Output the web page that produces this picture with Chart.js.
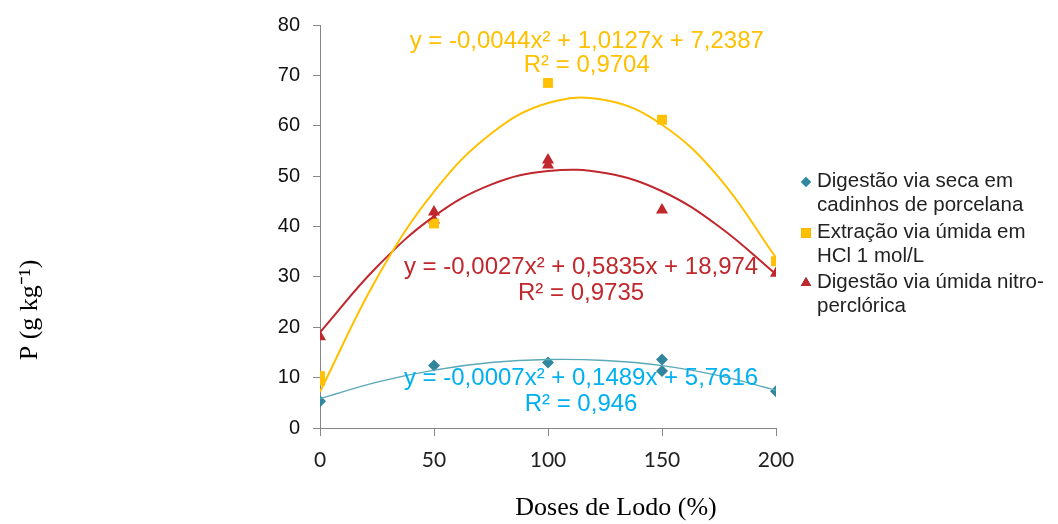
<!DOCTYPE html>
<html>
<head>
<meta charset="utf-8">
<script src="https://cdn.jsdelivr.net/npm/chart.js@4"></script>
<style>
  html, body { margin: 0; padding: 0; background: #fff; }
  #wrap { width: 1058px; height: 524px; }
</style>
</head>
<body>
<div id="wrap"><canvas id="chart" width="1058" height="524"></canvas></div>
<script>
// measured points (replicates share a dose)
const secaX = [0, 50, 100, 150, 150, 200];
const secaY = [5.3, 12.4, 13.0, 13.6, 11.3, 7.3];
const hclX = [0, 0, 50, 100, 150, 200];
const hclY = [10.3, 9.4, 40.6, 68.5, 61.2, 33.1];
const nitroX = [0, 50, 50, 100, 100, 150, 200];
const nitroY = [18.1, 42.9, 41.3, 53.2, 52.2, 43.3, 30.7];

// trend curves
const trendX = [0, 25, 50, 75, 100, 125, 150, 175, 200];
const trendSeca = [5.8, 9.1, 11.5, 13.0, 13.6, 13.4, 12.4, 10.4, 7.5];
const trendHcl = [7.2, 29.8, 46.9, 58.4, 64.5, 65.1, 60.2, 49.7, 33.8];
const trendNitro = [19.0, 32.0, 42.0, 48.3, 51.0, 50.6, 47.0, 40.0, 30.5];

const legendLabels = [
  ['Digestão via seca em', 'cadinhos de porcelana'],
  ['Extração via úmida em', 'HCl 1 mol/L'],
  ['Digestão via úmida nitro-', 'perclórica']
];
const equations = [
  ['y = -0,0044x² + 1,0127x + 7,2387', 'R² = 0,9704'],
  ['y = -0,0027x² + 0,5835x + 18,974', 'R² = 0,9735'],
  ['y = -0,0007x² + 0,1489x + 5,7616', 'R² = 0,946']
];

const TEAL = '#31859C', YELLOW = '#FFC000', RED = '#C0282D';

const pts = (xs, ys) => xs.map((x, i) => ({ x: x, y: ys[i] }));

const overlay = {
  id: 'overlay',
  afterDraw(chart) {
    const ctx = chart.ctx;
    const xs = chart.scales.x, ys = chart.scales.y;
    ctx.save();
    ctx.textBaseline = 'middle';

    // trend equations, anchored in data space
    ctx.font = '24px "Liberation Sans", Arial, sans-serif';
    ctx.textAlign = 'center';
    const eqPos = [[117, 76.8, 71.9], [114.5, 31.9, 26.7], [114.5, 9.9, 4.75]];
    const eqCol = [YELLOW, RED, '#00B0F0'];
    equations.forEach((eq, i) => {
      ctx.fillStyle = eqCol[i];
      const cx = xs.getPixelForValue(eqPos[i][0]);
      ctx.fillText(eq[0], cx, ys.getPixelForValue(eqPos[i][1]));
      ctx.fillText(eq[1], cx, ys.getPixelForValue(eqPos[i][2]));
    });

    // legend
    ctx.font = '20.5px "Liberation Sans", Arial, sans-serif';
    ctx.textAlign = 'left';
    const styles = ['rectRot', 'rect', 'triangle'];
    const sizes = [5, 7, 6];
    const cols = [TEAL, YELLOW, RED];
    const rowY = [181, 232, 282];
    legendLabels.forEach((lines, i) => {
      Chart.helpers.drawPoint(ctx, { pointStyle: styles[i], radius: sizes[i], borderWidth: 0 }, 806, rowY[i] + 1);
      ctx.fillStyle = cols[i];
      ctx.fill();
      ctx.fillStyle = '#222';
      lines.forEach((t, j) => ctx.fillText(t, 817, rowY[i] + j * 24));
    });

    // axis titles
    ctx.fillStyle = '#000';
    ctx.font = '26px "Liberation Serif", "Times New Roman", serif';
    ctx.textAlign = 'center';
    ctx.fillText('Doses de Lodo (%)', 616, 508);
    ctx.translate(30, 310);
    ctx.rotate(-Math.PI / 2);
    ctx.fillText('P (g kg⁻¹)', 0, 0);
    ctx.restore();
  }
};

new Chart(document.getElementById('chart'), {
  type: 'scatter',
  data: {
    datasets: [
      { data: pts(trendX, trendHcl), type: 'line', borderColor: YELLOW, borderWidth: 2, pointRadius: 0, tension: 0.4, fill: false },
      { data: pts(trendX, trendNitro), type: 'line', borderColor: RED, borderWidth: 2, pointRadius: 0, tension: 0.4, fill: false },
      { data: pts(trendX, trendSeca), type: 'line', borderColor: '#5AA9B8', borderWidth: 1.3, pointRadius: 0, tension: 0.4, fill: false },
      { data: pts(hclX, hclY), pointStyle: 'rect', pointRadius: 7, backgroundColor: YELLOW, borderWidth: 0 },
      { data: pts(nitroX, nitroY), pointStyle: 'triangle', pointRadius: 7, backgroundColor: RED, borderWidth: 0 },
      { data: pts(secaX, secaY), pointStyle: 'rectRot', pointRadius: 6, backgroundColor: TEAL, borderWidth: 0 }
    ]
  },
  options: {
    responsive: false,
    animation: false,
    layout: { padding: { left: 0, right: 282, top: 24, bottom: 0 } },
    plugins: { legend: { display: false }, tooltip: { enabled: false } },
    scales: {
      x: {
        type: 'linear', min: 0, max: 200,
        afterFit: s => { s.height = 96; },
        border: { color: '#868686', width: 1 },
        grid: { drawOnChartArea: false, tickLength: 8, color: '#868686' },
        ticks: { stepSize: 50, padding: 12, color: '#222', font: { family: 'Lato', size: 21 } }
      },
      y: {
        min: 0, max: 80,
        afterFit: s => { s.width = 320; },
        border: { color: '#868686', width: 1 },
        grid: { drawOnChartArea: false, tickLength: 7, color: '#868686' },
        ticks: { stepSize: 10, padding: 13, color: '#111', font: { family: 'Liberation Sans', size: 20 } }
      }
    }
  },
  plugins: [overlay]
});
</script>
</body>
</html>
